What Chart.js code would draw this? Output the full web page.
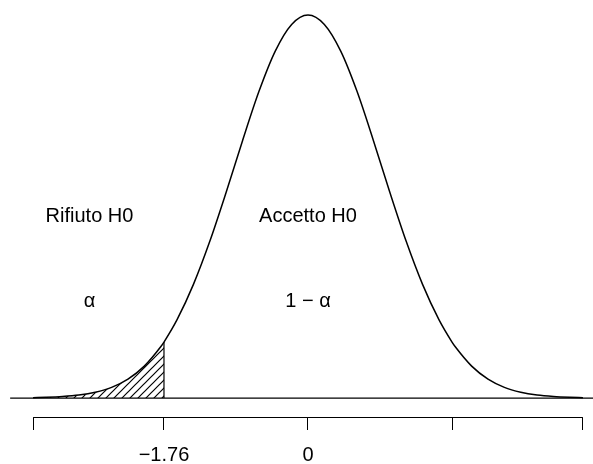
<!DOCTYPE html>
<html>
<head>
<meta charset="utf-8">
<script src="https://cdn.jsdelivr.net/npm/chart.js@4.4.1/dist/chart.umd.min.js"></script>
<style>
  html, body { margin: 0; padding: 0; background: #fff; }
  canvas { display: block; }
</style>
</head>
<body>
<canvas id="densChart" width="593" height="464"></canvas>
<script>
// curve (x in axis units, y = density height)
const curveX = [-3.36, -3.2, -3.0, -2.8, -2.6, -2.4, -2.2, -2.0, -1.8, -1.76, -1.6, -1.4, -1.2, -1.0, -0.8, -0.6, -0.4, -0.2, 0,
                0.2, 0.4, 0.6, 0.8, 1.0, 1.2, 1.4, 1.6, 1.76, 1.8, 2.0, 2.2, 2.4, 2.6, 2.8, 3.0, 3.2, 3.36];
const curveY = [0.0004, 0.0008, 0.0017, 0.0034, 0.0067, 0.0124, 0.0220, 0.0371, 0.0595, 0.0650, 0.091, 0.132, 0.182, 0.239, 0.299, 0.356, 0.403, 0.434, 0.445,
                0.434, 0.403, 0.356, 0.299, 0.239, 0.182, 0.132, 0.091, 0.0650, 0.0595, 0.0371, 0.0220, 0.0124, 0.0067, 0.0034, 0.0017, 0.0008, 0.0004];

const critical = -1.76;
const tickValues = [-3.36, -1.76, 0, 1.76, 3.36];
const tickLabels = ["", "\u22121.76", "0", "", ""];
const baselineX = [-3.64, 3.5];

const notes = [
  { text: "Rifiuto H0", x: -2.67, y: 0.205 },
  { text: "Accetto H0", x: 0, y: 0.205 },
  { text: "\u03b1", x: -2.67, y: 0.106 },
  { text: "1 \u2212 \u03b1", x: 0, y: 0.106 }
];

const font = "'Liberation Sans', Arial, Helvetica, sans-serif";

const curvePts = curveX.map((x, i) => ({ x: x, y: curveY[i] }));
const tailPts = curvePts.filter(p => p.x <= critical);
const critHeight = curveY[curveX.indexOf(critical)];

// diagonal hatch pattern
const tile = document.createElement("canvas");
tile.width = 8;
tile.height = 8;
const tctx = tile.getContext("2d");
tctx.strokeStyle = "#000";
tctx.lineWidth = 1.2;
tctx.beginPath();
tctx.moveTo(0, 8); tctx.lineTo(8, 0);
tctx.moveTo(-1, 1); tctx.lineTo(1, -1);
tctx.moveTo(7, 9); tctx.lineTo(9, 7);
tctx.stroke();
const ctx = document.getElementById("densChart").getContext("2d");
const hatch = ctx.createPattern(tile, "repeat");

const extras = {
  id: "extras",
  afterDraw(chart) {
    const c = chart.ctx;
    const xs = chart.scales.x, ys = chart.scales.y;
    c.save();
    // axis line between first and last tick
    c.strokeStyle = "#000";
    c.lineWidth = 1;
    const ay = Math.round(xs.top) - 0.5;
    c.beginPath();
    c.moveTo(xs.getPixelForValue(tickValues[0]), ay);
    c.lineTo(xs.getPixelForValue(tickValues[tickValues.length - 1]), ay);
    c.stroke();
    // annotations
    c.fillStyle = "#000";
    c.font = "20px " + font;
    c.textAlign = "center";
    c.textBaseline = "alphabetic";
    notes.forEach(n => {
      c.fillText(n.text, xs.getPixelForValue(n.x), ys.getPixelForValue(n.y));
    });
    c.restore();
  }
};

new Chart(ctx, {
  type: "line",
  data: {
    datasets: [
      {
        data: curvePts,
        borderColor: "#000",
        borderWidth: 1.5,
        pointRadius: 0,
        fill: false,
        cubicInterpolationMode: "monotone"
      },
      {
        data: tailPts,
        borderWidth: 0,
        borderColor: "rgba(0,0,0,0)",
        backgroundColor: hatch,
        pointRadius: 0,
        fill: "origin",
        cubicInterpolationMode: "monotone"
      },
      {
        data: [{ x: critical, y: 0 }, { x: critical, y: critHeight }],
        borderColor: "#000",
        borderWidth: 1.2,
        pointRadius: 0,
        fill: false
      },
      {
        data: baselineX.map(x => ({ x: x, y: 0 })),
        borderColor: "#000",
        borderWidth: 1.2,
        pointRadius: 0,
        fill: false,
        clip: false
      }
    ]
  },
  options: {
    responsive: false,
    animation: false,
    devicePixelRatio: 1,
    layout: { padding: 0 },
    plugins: {
      legend: { display: false },
      tooltip: { enabled: false }
    },
    scales: {
      x: {
        type: "linear",
        min: -3.764,
        max: 3.483,
        border: { display: false },
        grid: {
          drawOnChartArea: false,
          drawTicks: true,
          tickLength: 12,
          color: "#000",
          lineWidth: 1
        },
        afterBuildTicks: scale => {
          scale.ticks = tickValues.map(v => ({ value: v }));
        },
        afterFit: scale => {
          scale.height = 46;
          scale.paddingLeft = 0;
          scale.paddingRight = 0;
        },
        ticks: {
          autoSkip: false,
          maxRotation: 0,
          padding: 13,
          color: "#000",
          font: { family: font, size: 20 },
          callback: (value) => {
            const i = tickValues.indexOf(value);
            return i >= 0 ? tickLabels[i] : "";
          }
        }
      },
      y: {
        display: false,
        min: -0.0232,
        max: 0.4624
      }
    }
  },
  plugins: [extras]
});
</script>
</body>
</html>
